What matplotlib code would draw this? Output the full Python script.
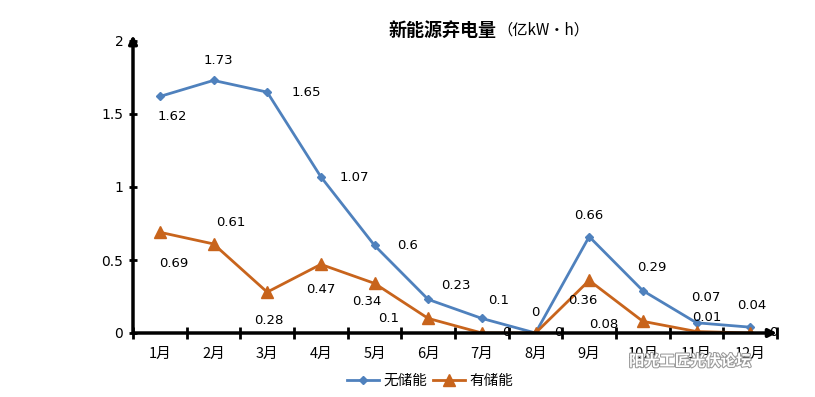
import matplotlib
matplotlib.use("Agg")
import matplotlib.pyplot as plt
import matplotlib.patheffects as pe
import numpy as np

plt.rcParams['font.family'] = ['Noto Sans CJK SC', 'DejaVu Sans']

# data
months = ['1月', '2月', '3月', '4月', '5月', '6月', '7月', '8月', '9月', '10月', '11月', '12月']
no_storage = [1.62, 1.73, 1.65, 1.07, 0.6, 0.23, 0.1, 0, 0.66, 0.29, 0.07, 0.04]
with_storage = [0.69, 0.61, 0.28, 0.47, 0.34, 0.1, 0, 0, 0.36, 0.08, 0.01, 0]
yticks = [0, 0.5, 1, 1.5, 2]

# label offsets in pixels
off_blue = [(12, -20), (5, 20), (39, 0), (33, -1), (33, 0), (28, 14),
            (17, 18), (0, 20), (0, 21), (9, 23), (9, 25), (2, 22)]
off_orange = [(14, -31), (17, 21), (2, -28), (0, -25), (-8, -18), (-40, 0),
              (24, 0), (23, 0), (-6, -20), (-39, -3), (10, 14), (23, 0)]

blue = '#4F81BD'
orange = '#C8641C'

fig = plt.figure(figsize=(8.15, 3.97), dpi=100)
ax = fig.add_axes([133 / 815, 1 - 333 / 397, 644 / 815, 292 / 397])

x = np.arange(len(months))
ax.plot(x, no_storage, color=blue, lw=2, marker='D', ms=4.5, label='无储能')
ax.plot(x, with_storage, color=orange, lw=2, marker='^', ms=9, label='有储能')

for i in range(len(months)):
    ax.annotate(f'{no_storage[i]:g}', (x[i], no_storage[i]), xytext=off_blue[i],
                textcoords='offset pixels', ha='center', va='center', fontsize=9.5,
                family=['DejaVu Sans'])
    ax.annotate(f'{with_storage[i]:g}', (x[i], with_storage[i]), xytext=off_orange[i],
                textcoords='offset pixels', ha='center', va='center', fontsize=9.5,
                family=['DejaVu Sans'])

ax.set_xlim(-0.5, len(months) - 0.5)
ax.set_ylim(0, 2)
ax.set_yticks(yticks)
ax.set_yticklabels([f'{v:g}' for v in yticks], fontsize=10, family=['DejaVu Sans'])
ax.set_xticks(x)
ax.set_xticklabels(months, fontsize=10.5)
ax.set_xticks(np.arange(-0.5, len(months), 1), minor=True)
ax.tick_params(axis='x', which='major', length=0, pad=10)
ax.tick_params(axis='x', which='minor', length=8, width=2, direction='inout')
ax.tick_params(axis='y', length=6, width=2, direction='inout', pad=4)

for s in ax.spines.values():
    s.set_visible(False)
ax.annotate('', xy=(0, 1.02), xytext=(0, 0), xycoords='axes fraction',
            arrowprops=dict(arrowstyle='-|>', lw=2.5, color='black', mutation_scale=12,
                            shrinkA=0, shrinkB=0), annotation_clip=False)
ax.annotate('', xy=(1.0, 0), xytext=(0, 0), xycoords='axes fraction',
            arrowprops=dict(arrowstyle='-|>', lw=2.5, color='black', mutation_scale=12,
                            shrinkA=0, shrinkB=0), annotation_clip=False)

# title
fig.text(497 / 815, 1 - 30 / 397, '新能源弃电量', ha='right', va='center',
         fontsize=13, fontweight='bold')
fig.text(497 / 815, 1 - 30 / 397, '（亿kW•h）', ha='left', va='center', fontsize=11,
         family=['Noto Sans CJK SC', 'DejaVu Sans'])

fig.legend(loc='center', bbox_to_anchor=(430 / 815, 1 - 381 / 397), ncol=2, frameon=False,
           fontsize=10.5, handlelength=2.2, columnspacing=0.4, handletextpad=0.3)

# watermark
fig.text(690 / 815, 1 - 361 / 397, '阳光工匠光伏论坛', ha='center', va='center', fontsize=11,
         color='white', fontweight='bold',
         path_effects=[pe.withStroke(linewidth=1.5, foreground='#999999')])

fig.savefig('out.png', dpi=100)
